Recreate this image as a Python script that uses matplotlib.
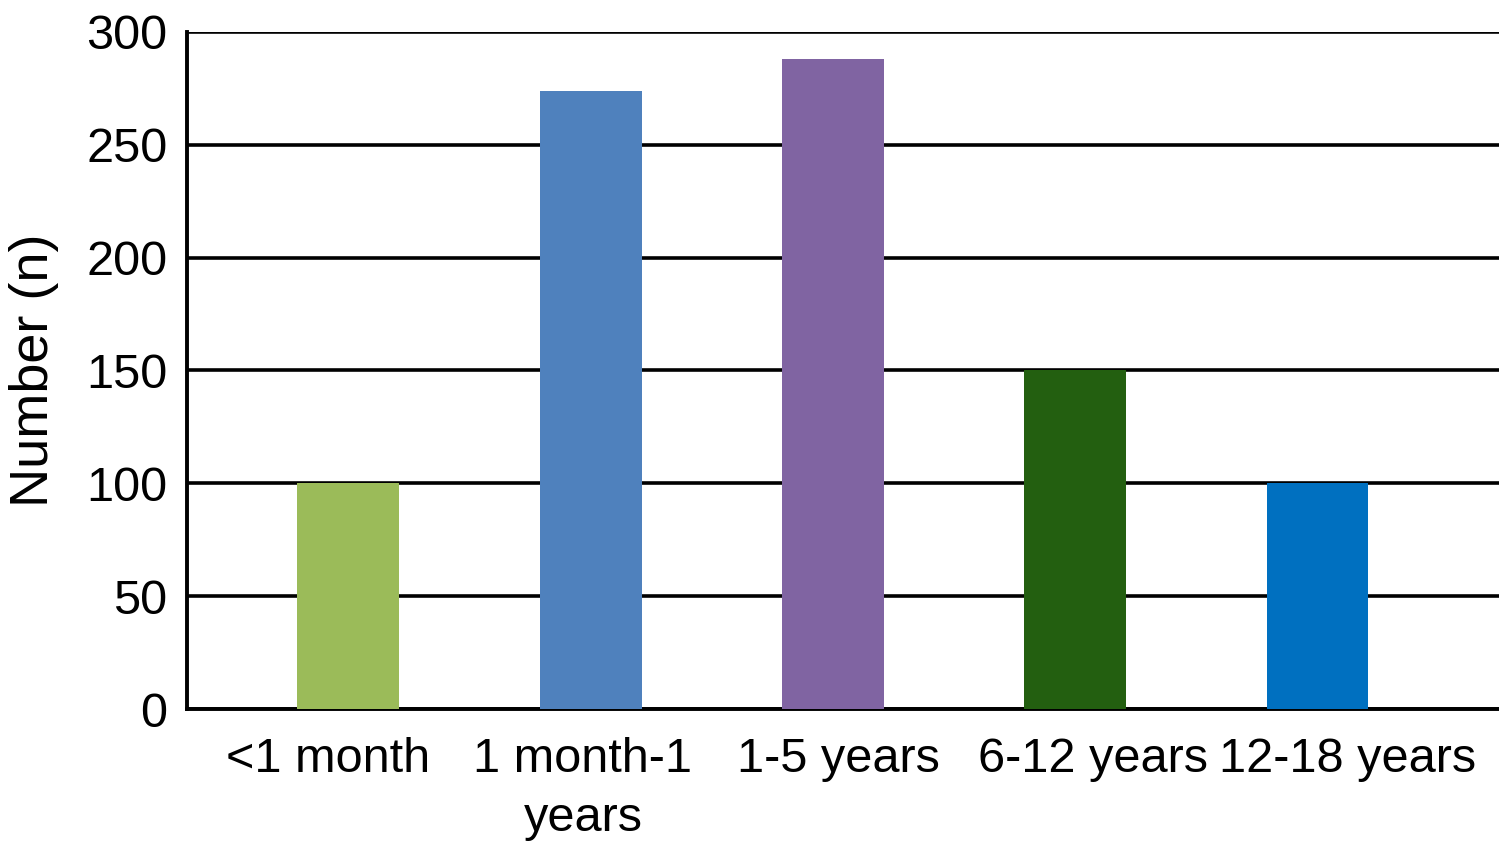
import matplotlib
matplotlib.use("Agg")
import matplotlib.pyplot as plt

categories = ["<1 month", "1 month-1\nyears", "1-5 years", "6-12 years", "12-18 years"]
values = [100, 274, 288, 150, 100]
colors = ["#9BBB59", "#4F81BD", "#8064A2", "#235F10", "#0070C0"]
yticks = [0, 50, 100, 150, 200, 250, 300]

plt.rcParams['font.family'] = ['Liberation Sans', 'DejaVu Sans']

fig = plt.figure(figsize=(14.99, 8.55), dpi=100)
ax = fig.add_axes([187/1499, 1-709/855, 1-187/1499, (709-32)/855])

x = list(range(len(categories)))
ax.bar(x, values, width=0.42, color=colors, zorder=3)

# category labels are spread slightly wider than the bars in the original
label_offset, label_step = -0.084, 1.0524
label_pos = [label_offset + label_step * i for i in x]

ax.set_ylim(0, 300)
ax.set_xlim(-0.666, 4.749)
ax.set_yticks(yticks)
ax.set_yticklabels([str(v) for v in yticks], fontsize=35)
ax.set_xticks(label_pos)
ax.set_xticklabels(categories, fontsize=35, linespacing=1.4)
ax.tick_params(axis='both', length=0)
ax.tick_params(axis='x', pad=20)
ax.tick_params(axis='y', pad=14)

ax.yaxis.grid(True, color='black', linewidth=2.6, zorder=0)
ax.xaxis.grid(False)
ax.set_axisbelow(True)
for s in ['top', 'right']:
    ax.spines[s].set_visible(False)
for s in ['left', 'bottom']:
    ax.spines[s].set_linewidth(2.8)
    ax.spines[s].set_color('black')

ax.set_ylabel("Number (n)", fontsize=39, labelpad=20)

fig.savefig("out.png", dpi=100)
